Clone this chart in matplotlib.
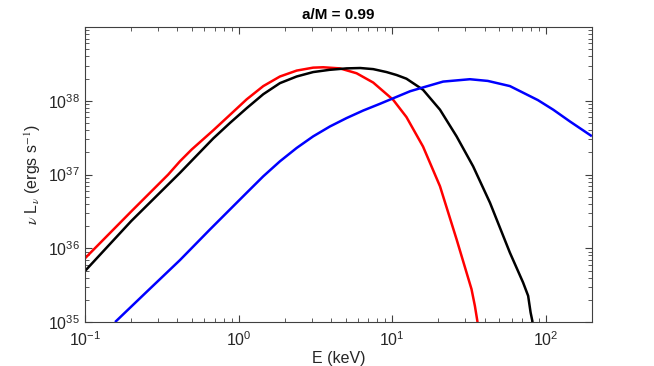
import matplotlib
matplotlib.use("Agg")
import matplotlib.pyplot as plt
import numpy as np

# spectra: E in keV, log10(nu L_nu) in erg/s
red_E = [0.1, 0.2, 0.348, 0.415, 0.495, 0.684, 0.879, 1.129, 1.449, 1.86, 2.39,
         3.06, 3.56, 4.57, 5.87, 7.53, 10.16, 12.4, 15.9, 20.5, 26.3, 32.9,
         34.6, 36.0]
red_logL = [35.865, 36.5, 37.0, 37.18, 37.34, 37.6, 37.81, 38.02, 38.20, 38.33,
            38.41, 38.45, 38.455, 38.44, 38.374, 38.248, 38.014, 37.78, 37.38,
            36.842, 36.122, 35.446, 35.22, 35.0]

black_E = [0.1, 0.2, 0.415, 0.684, 0.879, 1.129, 1.449, 1.86, 2.39, 3.06, 3.9,
           5.05, 6.2, 7.53, 9.2, 10.7, 12.4, 15.9, 20.5, 26.3, 33.7, 43.4, 58.5,
           71.3, 76.9, 79.8, 82.2]
black_logL = [35.693, 36.37, 37.023, 37.49, 37.70, 37.90, 38.09, 38.24, 38.33,
              38.39, 38.42, 38.44, 38.445, 38.43, 38.39, 38.35, 38.30, 38.15,
              37.88, 37.518, 37.112, 36.618, 35.941, 35.536, 35.356, 35.13, 35.0]

blue_E = [0.157, 0.252, 0.415, 0.652, 0.879, 1.129, 1.449, 1.86, 2.39, 3.06,
          3.94, 5.05, 6.49, 8.34, 10.2, 13.1, 15.2, 21.5, 32.1, 42, 58.5, 89,
          112, 144, 200]
blue_logL = [35.0, 35.41, 35.84, 36.257, 36.527, 36.753, 36.977, 37.18, 37.361,
             37.518, 37.653, 37.766, 37.869, 37.96, 38.036, 38.13, 38.17, 38.261,
             38.293, 38.27, 38.20, 38.01, 37.88, 37.72, 37.52]

plt.rcParams["font.family"] = ["Liberation Sans", "DejaVu Sans"]
plt.rcParams["mathtext.fontset"] = "stix"

fig = plt.figure(figsize=(6.54, 3.66), dpi=100)
ax = fig.add_axes([0.130, 0.120, 0.775, 0.806])

for E, logL, c in [(red_E, red_logL, "#ff0000"),
                   (black_E, black_logL, "#000000"),
                   (blue_E, blue_logL, "#0000ff")]:
    ax.plot(E, 10.0 ** np.array(logL), color=c, lw=1.8,
            solid_joinstyle="round", solid_capstyle="butt")

ax.set_xscale("log")
ax.set_yscale("log")
ax.set_xlim(0.1, 200)
ax.set_ylim(1e35, 1e39)
ax.set_yticks([1e35, 1e36, 1e37, 1e38])

axcol = "#404040"
for s in ax.spines.values():
    s.set_color(axcol)
    s.set_linewidth(0.8)
ax.tick_params(which="both", direction="in", top=True, right=True,
               colors=axcol, labelcolor="#262626", labelsize=11.5)
ax.tick_params(which="major", length=5)
ax.tick_params(which="minor", length=2.8)
ax.tick_params(axis="x", which="major", pad=6)

ax.set_xlabel("E (keV)", fontsize=11.5, color="#262626", labelpad=1)
ax.set_ylabel(r"$\nu$ L$_\nu$ (ergs s$^{-1}$)", fontsize=11.5, color="#262626", labelpad=4)
ax.set_title("a/M = 0.99", fontsize=11, fontweight="bold", pad=6)

fig.savefig("out.png", dpi=100)
